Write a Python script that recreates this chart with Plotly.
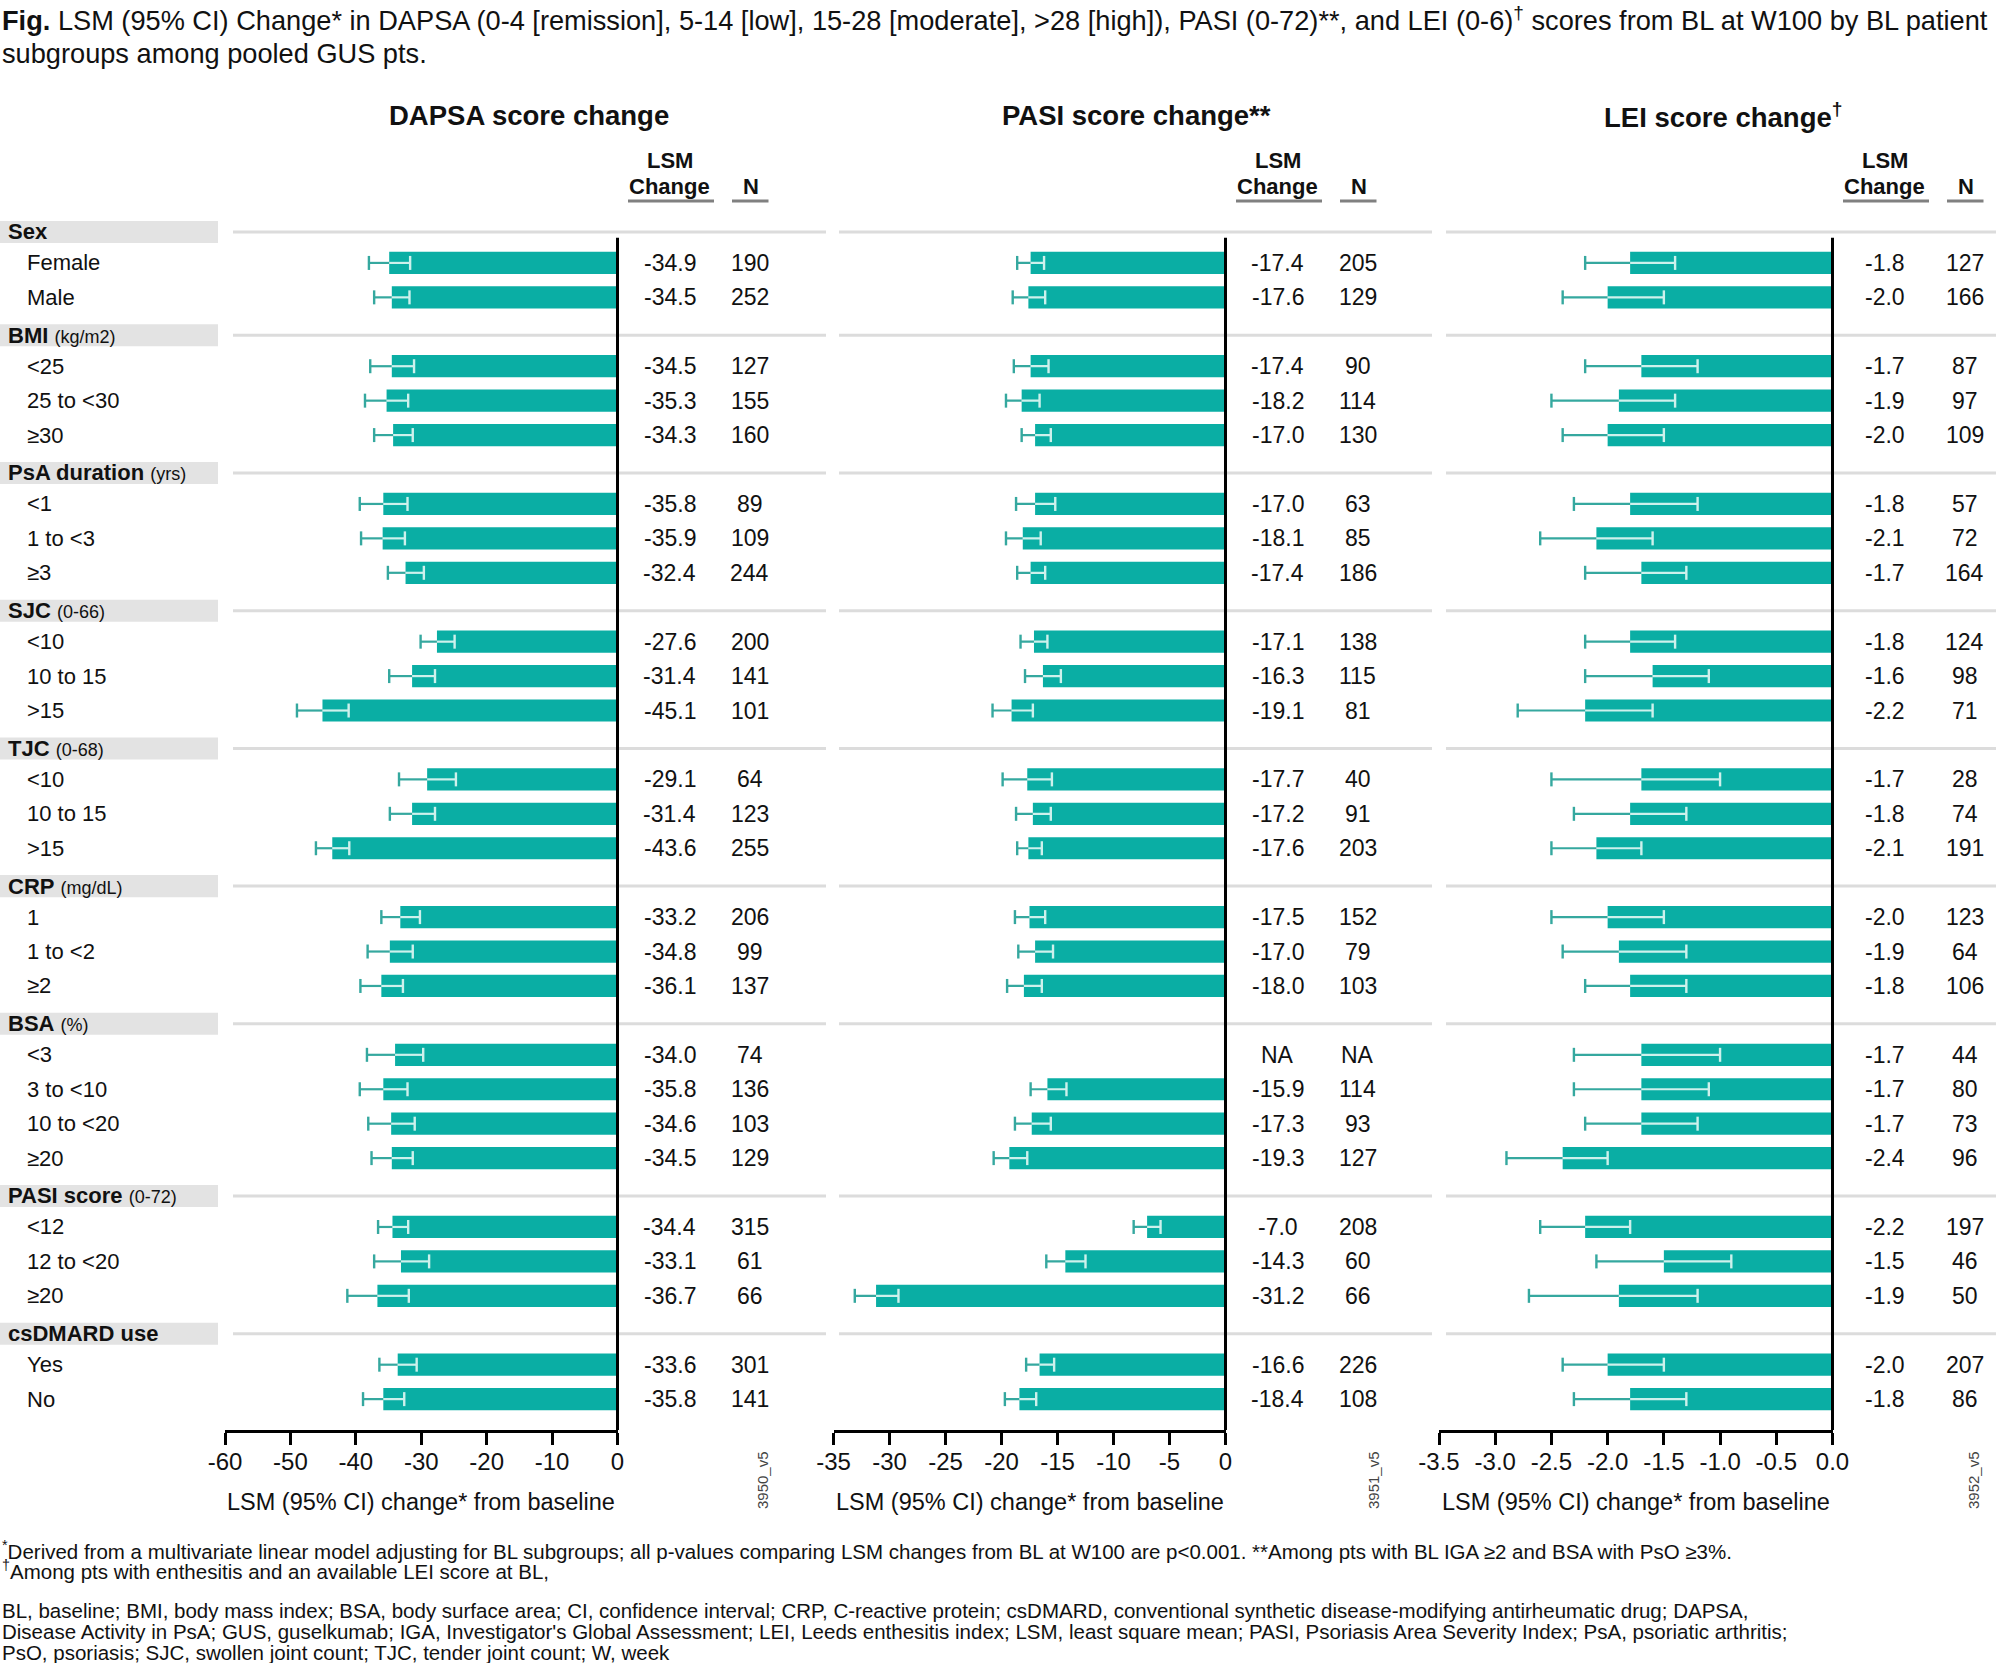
import plotly.graph_objects as go

W, H = 2000, 1663

# ---------------- data ----------------
group_names = ["Sex", "BMI", "PsA duration", "SJC", "TJC", "CRP", "BSA", "PASI score", "csDMARD use"]
group_units = ["", "(kg/m2)", "(yrs)", "(0-66)", "(0-68)", "(mg/dL)", "(%)", "(0-72)", ""]
group_items = [
    ["Female", "Male"],
    ["<25", "25 to <30", "≥30"],
    ["<1", "1 to <3", "≥3"],
    ["<10", "10 to 15", ">15"],
    ["<10", "10 to 15", ">15"],
    ["1", "1 to <2", "≥2"],
    ["<3", "3 to <10", "10 to <20", "≥20"],
    ["<12", "12 to <20", "≥20"],
    ["Yes", "No"],
]

dapsa_lsm = [-34.9, -34.5, -34.5, -35.3, -34.3, -35.8, -35.9, -32.4, -27.6, -31.4, -45.1, -29.1, -31.4,
             -43.6, -33.2, -34.8, -36.1, -34.0, -35.8, -34.6, -34.5, -34.4, -33.1, -36.7, -33.6, -35.8]
dapsa_lo = [-38.0, -37.2, -37.8, -38.6, -37.2, -39.4, -39.2, -35.1, -30.1, -34.9, -49.0, -33.4, -34.8,
            -46.1, -36.1, -38.2, -39.3, -38.3, -39.4, -38.1, -37.6, -36.6, -37.2, -41.3, -36.4, -38.9]
dapsa_hi = [-31.7, -31.8, -31.1, -32.0, -31.3, -32.1, -32.5, -29.6, -24.9, -27.9, -41.1, -24.7, -27.9,
            -41.0, -30.2, -31.3, -32.8, -29.7, -32.1, -31.0, -31.3, -32.0, -28.8, -31.9, -30.7, -32.6]
dapsa_n = [190, 252, 127, 155, 160, 89, 109, 244, 200, 141, 101, 64, 123,
           255, 206, 99, 137, 74, 136, 103, 129, 315, 61, 66, 301, 141]

pasi_lsm = [-17.4, -17.6, -17.4, -18.2, -17.0, -17.0, -18.1, -17.4, -17.1, -16.3, -19.1, -17.7, -17.2,
            -17.6, -17.5, -17.0, -18.0, None, -15.9, -17.3, -19.3, -7.0, -14.3, -31.2, -16.6, -18.4]
pasi_lo = [-18.6, -19.0, -18.9, -19.6, -18.2, -18.7, -19.6, -18.6, -18.3, -17.9, -20.8, -19.9, -18.7,
           -18.6, -18.8, -18.5, -19.5, None, -17.4, -18.8, -20.7, -8.2, -16.0, -33.1, -17.8, -19.7]
pasi_hi = [-16.2, -16.1, -15.8, -16.6, -15.6, -15.2, -16.5, -16.1, -15.9, -14.7, -17.2, -15.5, -15.6,
           -16.4, -16.1, -15.4, -16.4, None, -14.2, -15.6, -17.7, -5.8, -12.5, -29.2, -15.3, -16.9]
pasi_n = [205, 129, 90, 114, 130, 63, 85, 186, 138, 115, 81, 40, 91,
          203, 152, 79, 103, None, 114, 93, 127, 208, 60, 66, 226, 108]

lei_lsm = [-1.8, -2.0, -1.7, -1.9, -2.0, -1.8, -2.1, -1.7, -1.8, -1.6, -2.2, -1.7, -1.8,
           -2.1, -2.0, -1.9, -1.8, -1.7, -1.7, -1.7, -2.4, -2.2, -1.5, -1.9, -2.0, -1.8]
lei_lo = [-2.2, -2.4, -2.2, -2.5, -2.4, -2.3, -2.6, -2.2, -2.2, -2.2, -2.8, -2.5, -2.3,
          -2.5, -2.5, -2.4, -2.2, -2.3, -2.3, -2.2, -2.9, -2.6, -2.1, -2.7, -2.4, -2.3]
lei_hi = [-1.4, -1.5, -1.2, -1.4, -1.5, -1.2, -1.6, -1.3, -1.4, -1.1, -1.6, -1.0, -1.3,
          -1.7, -1.5, -1.3, -1.3, -1.0, -1.1, -1.2, -2.0, -1.8, -0.9, -1.2, -1.5, -1.3]
lei_n = [127, 166, 87, 97, 109, 57, 72, 164, 124, 98, 71, 28, 74,
         191, 123, 64, 106, 44, 80, 73, 96, 197, 46, 50, 207, 86]

panel_titles = ["DAPSA score change", "PASI score change**", "LEI score change<sup>†</sup>"]
dapsa_ticks = [-60, -50, -40, -30, -20, -10, 0]
dapsa_ticktext = ["-60", "-50", "-40", "-30", "-20", "-10", "0"]
pasi_ticks = [-35, -30, -25, -20, -15, -10, -5, 0]
pasi_ticktext = ["-35", "-30", "-25", "-20", "-15", "-10", "-5", "0"]
lei_ticks = [-3.5, -3.0, -2.5, -2.0, -1.5, -1.0, -0.5, 0.0]
lei_ticktext = ["-3.5", "-3.0", "-2.5", "-2.0", "-1.5", "-1.0", "-0.5", "0.0"]
version_tags = ["3950_v5", "3951_v5", "3952_v5"]

# ---------------- styling ----------------
FONT = "Liberation Sans, Arial, sans-serif"
TEXT = "#111111"
BAR = "#0aaea4"
CI_OUT = "#35a89f"
CI_IN = "#cdf1ec"
SEP = "#dcdcdc"
BOX = "#e3e3e3"


def fx(p):
    return p / W


def fy(p):
    return 1 - p / H


def ann(text, x, y, size, xref="paper", yref="paper", xanchor="center", yanchor="middle", **kw):
    d = dict(text=text, x=x, y=y, xref=xref, yref=yref, xanchor=xanchor, yanchor=yanchor,
             showarrow=False, font=dict(size=size, color=kw.pop("color", TEXT)))
    d.update(kw)
    return d


# rows: headers and items share a uniform slot grid
header_slots, item_slots, item_labels = [], [], []
s = 0
for g, items in zip(group_names, group_items):
    header_slots.append(s)
    s += 1
    for it in items:
        item_slots.append(s)
        item_labels.append(it)
        s += 1

row0_px, row_px = 228.5, 34.43
y_top_px, y_bot_px = 215, 1430
y_range = [(y_bot_px - row0_px) / row_px, (y_top_px - row0_px) / row_px]

panels = [
    dict(lsm=dapsa_lsm, lo=dapsa_lo, hi=dapsa_hi, n=dapsa_n, rng=[-60, 0], tv=dapsa_ticks, tt=dapsa_ticktext,
         dom=(225, 617.5), sep=(233, 826), title_px=529, tag_px=762),
    dict(lsm=pasi_lsm, lo=pasi_lo, hi=pasi_hi, n=pasi_n, rng=[-35, 0], tv=pasi_ticks, tt=pasi_ticktext,
         dom=(833.5, 1225.5), sep=(839, 1432), title_px=1136, tag_px=1373),
    dict(lsm=lei_lsm, lo=lei_lo, hi=lei_hi, n=lei_n, rng=[-3.5, 0], tv=lei_ticks, tt=lei_ticktext,
         dom=(1439, 1832.5), sep=(1446, 1996), title_px=1723, tag_px=1973),
]

fig = go.Figure()
shapes, annotations = [], []

for k, p in enumerate(panels):
    xa = "x" if k == 0 else f"x{k+1}"
    # bars
    fig.add_trace(go.Bar(
        x=p["lsm"], y=item_slots, orientation="h", width=0.645,
        marker=dict(color=BAR, line=dict(width=0)),
        xaxis=xa, yaxis="y", showlegend=False, hoverinfo="skip"))
    # CI: outer (lower -> mean) and inner (mean -> upper)
    ox, oy, ix, iy, capx_lo, capy_lo, capx_hi, capy_hi = [], [], [], [], [], [], [], []
    for sl, m, lo, hi in zip(item_slots, p["lsm"], p["lo"], p["hi"]):
        if m is None:
            continue
        ox += [lo, m, None]
        oy += [sl, sl, None]
        ix += [m, hi, None]
        iy += [sl, sl, None]
        capx_lo.append(lo); capy_lo.append(sl)
        capx_hi.append(hi); capy_hi.append(sl)
    fig.add_trace(go.Scatter(x=ox, y=oy, mode="lines", line=dict(color=CI_OUT, width=2.2),
                             xaxis=xa, yaxis="y", showlegend=False, hoverinfo="skip", cliponaxis=False))
    fig.add_trace(go.Scatter(x=capx_lo, y=capy_lo, mode="markers",
                             marker=dict(symbol="line-ns", size=10, line=dict(color=CI_OUT, width=2.4)),
                             xaxis=xa, yaxis="y", showlegend=False, hoverinfo="skip", cliponaxis=False))
    fig.add_trace(go.Scatter(x=ix, y=iy, mode="lines", line=dict(color=CI_IN, width=2.2),
                             xaxis=xa, yaxis="y", showlegend=False, hoverinfo="skip", cliponaxis=False))
    fig.add_trace(go.Scatter(x=capx_hi, y=capy_hi, mode="markers",
                             marker=dict(symbol="line-ns", size=10, line=dict(color=CI_IN, width=2.4)),
                             xaxis=xa, yaxis="y", showlegend=False, hoverinfo="skip", cliponaxis=False))

    zero_px = p["dom"][1]
    # zero line
    shapes.append(dict(type="line", xref="paper", yref="y", x0=fx(zero_px), x1=fx(zero_px),
                       y0=0.27, y1=y_range[0], line=dict(color="black", width=3)))
    # separators at group headers
    for hs in header_slots:
        shapes.append(dict(type="line", xref="paper", yref="y", x0=fx(p["sep"][0]), x1=fx(p["sep"][1]),
                           y0=hs + 0.1, y1=hs + 0.1, line=dict(color=SEP, width=3), layer="below"))
    # column headers
    annotations.append(ann("<b>LSM</b>", fx(zero_px + 52), fy(160), 22))
    annotations.append(ann("<b>Change</b>", fx(zero_px + 52), fy(186), 22))
    annotations.append(ann("<b>N</b>", fx(zero_px + 133), fy(186), 22))
    shapes.append(dict(type="line", xref="paper", yref="paper", x0=fx(zero_px + 10.5), x1=fx(zero_px + 96.5),
                       y0=fy(201), y1=fy(201), line=dict(color="#808080", width=3)))
    shapes.append(dict(type="line", xref="paper", yref="paper", x0=fx(zero_px + 114.5), x1=fx(zero_px + 151),
                       y0=fy(201), y1=fy(201), line=dict(color="#808080", width=3)))
    # panel title
    annotations.append(ann("<b>" + panel_titles[k] + "</b>", fx(p["title_px"]), fy(115), 27.5))
    # value columns
    for sl, m, n in zip(item_slots, p["lsm"], p["n"]):
        annotations.append(ann("NA" if m is None else f"{m:.1f}", fx(zero_px + 52), sl, 23, yref="y"))
        annotations.append(ann("NA" if n is None else str(n), fx(zero_px + 132), sl, 23, yref="y"))
    # axis title
    annotations.append(ann("LSM (95% CI) change* from baseline", fx((p["dom"][0] + p["dom"][1]) / 2),
                           fy(1502), 23.5))
    # version tag
    annotations.append(ann(version_tags[k], fx(p["tag_px"]), fy(1480), 15, textangle=-90, color="#444444"))

# group header boxes and labels
for g, u, hs in zip(group_names, group_units, header_slots):
    shapes.append(dict(type="rect", xref="paper", yref="y", x0=0, x1=fx(218), y0=hs + 0.1 - 0.32,
                       y1=hs + 0.1 + 0.32, fillcolor=BOX, line=dict(width=0), layer="below"))
    txt = f"<b>{g}</b>" + (f" <span style='font-size:18px'>{u}</span>" if u else "")
    annotations.append(ann(txt, fx(6), hs + 0.1, 22, yref="y", xanchor="left"))
for lab, sl in zip(item_labels, item_slots):
    annotations.append(ann(lab, fx(25), sl, 22, yref="y", xanchor="left"))

# figure title
title1 = ("<b>Fig.</b> LSM (95% CI) Change* in DAPSA (0-4 [remission], 5-14 [low], 15-28 [moderate], "
          ">28 [high]), PASI (0-72)**, and LEI (0-6)<sup>†</sup> scores from BL at W100 by BL patient")
title2 = "subgroups among pooled GUS pts."
annotations.append(ann(title1, 0, fy(19), 27.2, xanchor="left"))
annotations.append(ann(title2, 0, fy(53), 27.2, xanchor="left"))

# footnotes
foot = [
    ("<sup>*</sup>Derived from a multivariate linear model adjusting for BL subgroups; all p-values comparing "
     "LSM changes from BL at W100 are p<0.001. **Among pts with BL IGA ≥2 and BSA with PsO ≥3%.", 1550),
    ("<sup>†</sup>Among pts with enthesitis and an available LEI score at BL,", 1570),
    ("BL, baseline; BMI, body mass index; BSA, body surface area; CI, confidence interval; CRP, C-reactive protein; "
     "csDMARD, conventional synthetic disease-modifying antirheumatic drug; DAPSA,", 1610),
    ("Disease Activity in PsA; GUS, guselkumab; IGA, Investigator's Global Assessment; LEI, Leeds enthesitis index; "
     "LSM, least square mean; PASI, Psoriasis Area Severity Index; PsA, psoriatic arthritis;", 1631),
    ("PsO, psoriasis; SJC, swollen joint count; TJC, tender joint count; W, week", 1652),
]
for t, ypx in foot:
    annotations.append(ann(t, fx(0), fy(ypx), 20.5, xanchor="left"))

axis_common = dict(showgrid=False, zeroline=False, showline=True, linecolor="black", linewidth=3,
                   ticks="outside", ticklen=12, tickwidth=2.5, tickcolor="black", ticklabelstandoff=-4,
                   tickfont=dict(size=24, color=TEXT), anchor="y", fixedrange=True, automargin=False)

layout = dict(
    width=W, height=H, margin=dict(l=0, r=0, t=0, b=0, pad=0, autoexpand=False),
    paper_bgcolor="white", plot_bgcolor="rgba(0,0,0,0)",
    font=dict(family=FONT, color=TEXT),
    barmode="overlay", showlegend=False,
    yaxis=dict(domain=[fy(y_bot_px), fy(y_top_px)], range=y_range, visible=False, fixedrange=True,
               automargin=False),
    shapes=shapes, annotations=annotations,
)
for k, p in enumerate(panels):
    key = "xaxis" if k == 0 else f"xaxis{k+1}"
    layout[key] = dict(axis_common, domain=[fx(p["dom"][0]), fx(p["dom"][1])], range=p["rng"],
                       tickvals=p["tv"], ticktext=p["tt"])

fig.update_layout(**layout)
fig.write_html("out.html", config={"displayModeBar": False},
               post_script="document.body.style.margin='0px';document.body.style.overflow='hidden';")
